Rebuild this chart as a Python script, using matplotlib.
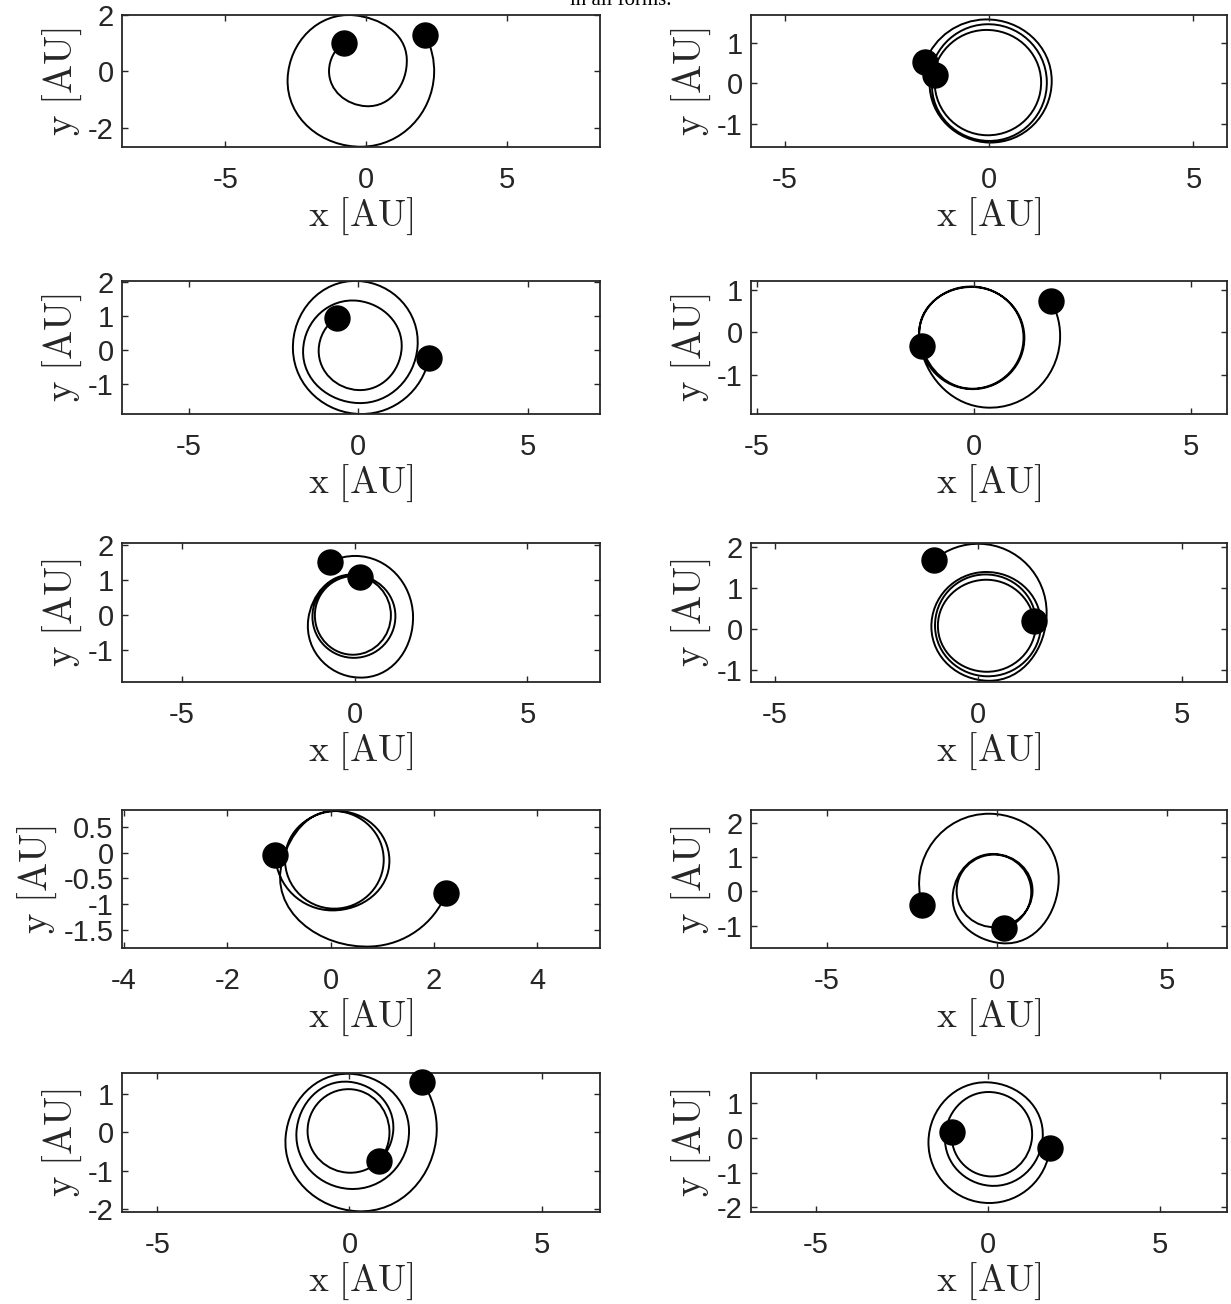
import numpy as np
import matplotlib
matplotlib.use("Agg")
import matplotlib.pyplot as plt
from matplotlib.path import Path
from matplotlib.patches import PathPatch

# Bahnpunkte (Extrempunkte je Viertelumlauf); erster/letzter Punkt = Koerper
orbit1_x = [-0.80, -1.32, 0.00, 1.44, -0.43, -2.79, -0.15, 2.41, 2.09]
orbit1_y = [1.01, 0.02, -1.24, 0.45, 1.99, -0.26, -2.68, -0.10, 1.29]

orbit2_x = [-1.32, -0.05, 1.27, -0.12, -1.40, -0.02, 1.41, -0.10, -1.46, 0.00, 1.53, -0.10, -1.56]
orbit2_y = [0.20, -1.29, 0.05, 1.31, 0.00, -1.43, 0.05, 1.45, 0.00, -1.47, 0.05, 1.57, 0.53]

orbit3_x = [-0.63, -1.17, 0.00, 1.28, 0.00, -1.63, 0.00, 1.75, 0.00, -1.93, 0.10, 2.09]
orbit3_y = [0.95, 0.00, -1.17, 0.05, 1.44, 0.00, -1.55, 0.10, 2.02, 0.00, -1.87, -0.24]

orbit4_x = [-1.20, 0.00, 1.17, 0.00, -1.25, -1.20, 0.00, 1.15, 0.00, -1.26, -1.21, 0.29, 1.99, 1.78]
orbit4_y = [-0.32, -1.32, -0.09, 1.06, -0.05, -0.32, -1.31, -0.09, 1.07, -0.05, -0.40, -1.75, -0.20, 0.74]

orbit5_x = [-0.70, 0.03, 1.69, 0.30, -1.34, -0.05, 1.18, 0.00, -1.22, 0.00, 1.05, 0.00, -1.15, 0.15]
orbit5_y = [1.54, 1.70, 0.00, -1.77, -0.10, 1.17, 0.00, -1.21, -0.05, 1.14, 0.00, -1.12, 0.00, 1.11]

orbit6_x = [-1.08, 0.05, 1.68, 0.25, -1.15, 0.15, 1.54, 0.20, -1.06, 0.15, 1.42, 0.20, -0.99, 0.15, 1.38]
orbit6_y = [1.70, 2.09, 0.40, -1.26, 0.05, 1.40, 0.15, -1.15, 0.05, 1.34, 0.15, -1.04, 0.10, 1.21, 0.19]

orbit7_x = [-1.07, 0.03, 1.14, 0.11, -0.88, 0.18, 1.03, 0.11, -0.93, 0.80, 2.24]
orbit7_y = [-0.05, -1.12, -0.14, 0.81, -0.08, -1.08, -0.14, 0.81, -0.15, -1.82, -0.79]

orbit8_x = [-2.20, -0.21, 1.81, 0.14, -1.30, -0.09, 1.04, -0.05, -1.19, -0.07, 1.00, 0.20]
orbit8_y = [-0.39, 2.28, 0.34, -1.52, -0.05, 1.10, 0.00, -1.05, -0.05, 1.08, -0.10, -1.08]

orbit9_x = [0.76, 1.04, 0.00, -1.09, 0.00, 1.14, 0.00, -1.38, 0.00, 1.55, 0.00, -1.66, 0.20, 2.27, 1.89]
orbit9_y = [-0.75, 0.05, 1.12, 0.00, -1.05, 0.05, 1.31, 0.00, -1.47, 0.05, 1.52, -0.10, -2.05, 0.00, 1.31]

orbit10_x = [-1.05, 0.05, 1.28, 0.00, -1.25, 0.05, 1.59, 0.00, -1.73, 0.05, 1.80]
orbit10_y = [0.16, -1.11, 0.00, 1.33, 0.00, -1.38, 0.00, 1.61, -0.10, -1.88, -0.29]

orbits_x = [orbit1_x, orbit2_x, orbit3_x, orbit4_x, orbit5_x,
            orbit6_x, orbit7_x, orbit8_x, orbit9_x, orbit10_x]
orbits_y = [orbit1_y, orbit2_y, orbit3_y, orbit4_y, orbit5_y,
            orbit6_y, orbit7_y, orbit8_y, orbit9_y, orbit10_y]

# Achsengrenzen und Ticks
xlims = [(-8.67, 8.30), (-5.83, 5.82), (-6.98, 7.14), (-5.13, 5.84), (-6.73, 7.10),
         (-5.58, 6.11), (-4.04, 5.22), (-7.24, 6.76), (-5.92, 6.52), (-6.89, 6.95)]
ylims = [(-2.69, 2.00), (-1.58, 1.68), (-1.87, 2.02), (-1.90, 1.20), (-1.90, 2.07),
         (-1.29, 2.11), (-1.85, 0.83), (-1.66, 2.39), (-2.07, 1.54), (-2.14, 1.88)]
xticks = [[-5, 0, 5]] * 6 + [[-4, -2, 0, 2, 4]] + [[-5, 0, 5]] * 3
yticks = [[-2, 0, 2], [-1, 0, 1], [-1, 0, 1, 2], [-1, 0, 1], [-1, 0, 1, 2],
          [-1, 0, 1, 2], [-1.5, -1, -0.5, 0, 0.5], [-1, 0, 1, 2], [-2, -1, 0, 1], [-2, -1, 0, 1]]


def unit(v):
    return v / np.linalg.norm(v)


def orbit_path(xs, ys):
    # glatte Bezierkurve durch die Bahnpunkte
    P = np.column_stack([xs, ys]).astype(float)
    n = len(P)
    t = [None] * n
    for i in range(1, n - 1):
        a = P[i] - P[i - 1]
        b = P[i + 1] - P[i]
        da, db = np.linalg.norm(a), np.linalg.norm(b)
        t[i] = unit(a / da * db / (da + db) + b / db * da / (da + db))
    u = unit(P[1] - P[0])
    t[0] = unit(2 * np.dot(t[1], u) * u - t[1])
    u = unit(P[-1] - P[-2])
    t[-1] = unit(2 * np.dot(t[-2], u) * u - t[-2])

    verts = [P[0]]
    codes = [Path.MOVETO]
    for i in range(n - 1):
        c = np.linalg.norm(P[i + 1] - P[i])
        phi = np.arccos(np.clip(np.dot(t[i], t[i + 1]), -1, 1))
        if phi < 1e-3:
            f = 1 / 3
        else:
            f = 4 / 3 * np.tan(phi / 4) / (2 * np.sin(phi / 2))
        L = f * c
        verts += [P[i] + L * t[i], P[i + 1] - L * t[i + 1], P[i + 1]]
        codes += [Path.CURVE4] * 3
    return Path(verts, codes)


plt.rcParams["mathtext.fontset"] = "cm"
plt.rcParams["axes.unicode_minus"] = False
plt.rcParams["font.family"] = "Liberation Sans"

W, H = 1231, 1304
fig = plt.figure(figsize=(W / 100, H / 100), dpi=100)

cols = [(122, 600), (751, 1227)]
rows = [(15, 147), (281, 414), (543, 682), (810, 948), (1073, 1212)]
grey = "#262626"

for k in range(10):
    r, c = divmod(k, 2)
    x0, x1 = cols[c]
    top, bot = rows[r]
    ax = fig.add_axes([x0 / W, 1 - bot / H, (x1 - x0) / W, (bot - top) / H])
    ax.add_patch(PathPatch(orbit_path(orbits_x[k], orbits_y[k]), fc="none", ec="k", lw=1.4))
    ox, oy = orbits_x[k], orbits_y[k]
    ax.plot([ox[0], ox[-1]], [oy[0], oy[-1]], "o", color="k", ms=18, clip_on=False, zorder=3)
    ax.set_xlim(*xlims[k])
    ax.set_ylim(*ylims[k])
    ax.set_xticks(xticks[k])
    ax.set_yticks(yticks[k])
    ax.set_yticklabels([f"{v:g}" for v in yticks[k]])
    ax.tick_params(direction="in", length=4, width=1, top=True, right=True,
                   labelsize=21, colors=grey, labelcolor=grey)
    ax.tick_params(axis="x", pad=14)
    ax.tick_params(axis="y", pad=6)
    for sp in ax.spines.values():
        sp.set_linewidth(1.3)
        sp.set_color(grey)
    ax.set_xlabel(r"$\mathrm{x\ [AU]}$", fontsize=27, color=grey, labelpad=1)
    ax.set_ylabel(r"$\mathrm{y\ [AU]}$", fontsize=28, color=grey, labelpad=3)

fig.text(0.504, 1 - 5 / H, "in all forms.", ha="center", va="baseline",
         family="Liberation Serif", fontsize=15)

fig.savefig("out.png", dpi=100)
